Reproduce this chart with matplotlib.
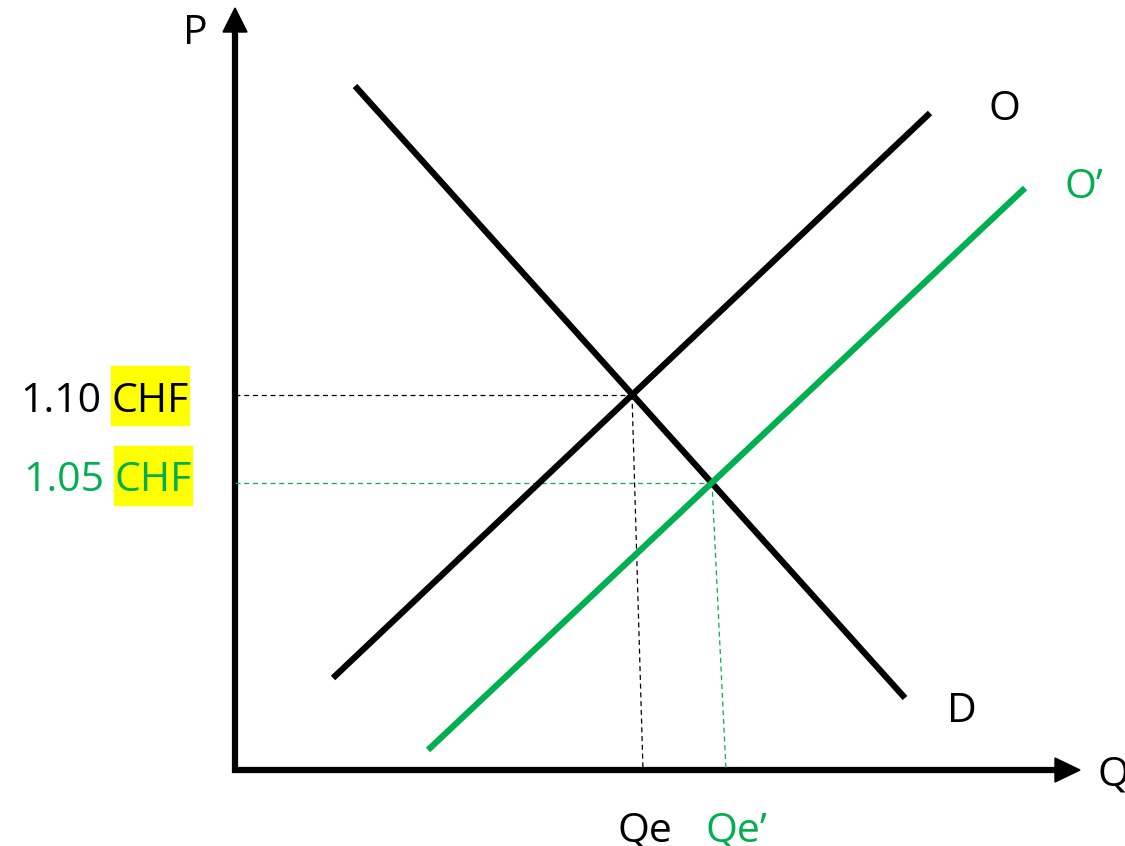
import matplotlib
matplotlib.use("Agg")
import matplotlib.pyplot as plt
from matplotlib.patches import Polygon, Rectangle

GREEN = "#00B050"
plt.rcParams['font.family'] = ['Open Sans', 'DejaVu Sans']

# Schematic data (canvas units, y downward)
demand_x = [355, 905]
demand_y = [86, 698]
supply_x = [333, 930]
supply_y = [678, 113]
supply2_x = [428, 1025]
supply2_y = [750, 188]

eq1 = (632, 395)   # original equilibrium
eq2 = (712, 483)   # new equilibrium
q_feet = [643, 726]  # where dashed verticals meet Q axis

origin = (235, 770)
y_axis_top = 8
x_axis_end = 1080

price_labels = ["1.10", "1.05"]
currency = "CHF"
qty_labels = ["Qe", "Qe\u2019"]

fig = plt.figure(figsize=(11.25, 8.46), dpi=100)
ax = fig.add_axes([0, 0, 1, 1])
ax.set_xlim(0, 1125)
ax.set_ylim(846, 0)
ax.axis("off")

# Axes
ax.plot([origin[0], origin[0]], [origin[1] + 3, 30], color="black", lw=4.5, solid_capstyle="butt")
ax.plot([origin[0] - 3, 1057], [origin[1], origin[1]], color="black", lw=4.5, solid_capstyle="butt")
ax.add_patch(Polygon([[223, 32], [247, 32], [origin[0], y_axis_top]], closed=True, color="black"))
ax.add_patch(Polygon([[1055, 758], [1055, 782], [x_axis_end, origin[1]]], closed=True, color="black"))

# Dashed guide lines
ax.plot([origin[0], eq1[0]], [eq1[1], eq1[1]], color="black", lw=0.9, ls=(0, (4, 3)))
ax.plot([eq1[0], q_feet[0]], [eq1[1], origin[1]], color="black", lw=0.9, ls=(0, (4, 3)))
ax.plot([origin[0], eq2[0]], [eq2[1], eq2[1]], color=GREEN, lw=0.9, ls=(0, (4, 3)))
ax.plot([eq2[0], q_feet[1]], [eq2[1], origin[1]], color=GREEN, lw=0.9, ls=(0, (4, 3)))

# Curves
ax.plot(demand_x, demand_y, color="black", lw=4.5, solid_capstyle="butt")
ax.plot(supply_x, supply_y, color="black", lw=4.5, solid_capstyle="butt")
ax.plot(supply2_x, supply2_y, color=GREEN, lw=4.5, solid_capstyle="butt")

fs = 29.5
# Axis labels
ax.text(195, 44, "P", fontsize=fs, ha="center", va="baseline", color="black")
ax.text(1098, 786, "Q", fontsize=fs, ha="left", va="baseline", color="black")
# Curve labels
ax.text(1004, 120, "O", fontsize=fs, ha="center", va="baseline", color="black")
ax.text(1084, 198, "O\u2019", fontsize=fs, ha="center", va="baseline", color=GREEN)
ax.text(962, 722, "D", fontsize=fs, ha="center", va="baseline", color="black")

# Price labels with highlighted currency
ax.add_patch(Rectangle((111, 366), 78, 59, color="#FFFF00", zorder=1))
ax.add_patch(Rectangle((114, 446), 78, 59, color="#FFFF00", zorder=1))
ax.text(101, 412, price_labels[0], fontsize=fs, ha="right", va="baseline", color="black", zorder=2)
ax.text(150, 412, currency, fontsize=fs, ha="center", va="baseline", color="black", zorder=2)
ax.text(104, 491, price_labels[1], fontsize=fs, ha="right", va="baseline", color=GREEN, zorder=2)
ax.text(153, 491, currency, fontsize=fs, ha="center", va="baseline", color=GREEN, zorder=2)

# Quantity labels
ax.text(645, 841, qty_labels[0], fontsize=fs, ha="center", va="baseline", color="black")
ax.text(736, 841, qty_labels[1], fontsize=fs, ha="center", va="baseline", color=GREEN)

fig.savefig("out.png", dpi=100)
